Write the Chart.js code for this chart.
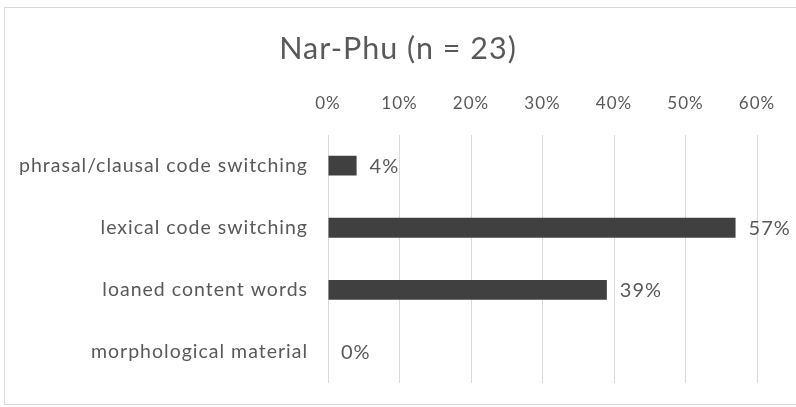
<!DOCTYPE html>
<html>
<head>
<meta charset="utf-8">
<script src="https://cdn.jsdelivr.net/npm/chart.js@4/dist/chart.umd.min.js"></script>
<style>
  html, body { margin: 0; padding: 0; background: #ffffff; }
  #wrap { position: relative; width: 796px; height: 407px; }
</style>
</head>
<body>
<div id="wrap"><canvas id="chart" width="796" height="407"></canvas></div>
<script>
// Share of contact phenomena observed in Nar-Phu speech samples
const chartTitle = 'Nar-Phu (n = 23)';
const categories = [
  'phrasal/clausal code switching',
  'lexical code switching',
  'loaned content words',
  'morphological material'
];
const percentValues = [4, 57, 39, 0];
const axisMax = 60;
const axisStep = 10;

const FONT = 'Lato, "Open Sans", sans-serif';
const TEXT = '#595959';

// White background, light frame, and slightly open letter spacing for all text
const framePlugin = {
  id: 'frame',
  beforeDraw(chart) {
    const ctx = chart.ctx;
    ctx.save();
    ctx.fillStyle = '#ffffff';
    ctx.fillRect(0, 0, chart.width, chart.height);
    ctx.strokeStyle = '#d9d9d9';
    ctx.lineWidth = 1;
    ctx.strokeRect(4.5, 7.5, chart.width + 10, 397);
    ctx.restore();
    if ('letterSpacing' in ctx) ctx.letterSpacing = '1px';
  }
};

// Percentage written just past the end of each bar
const valueLabelPlugin = {
  id: 'valueLabels',
  afterDatasetsDraw(chart) {
    const ctx = chart.ctx;
    const meta = chart.getDatasetMeta(0);
    ctx.save();
    ctx.font = '20px ' + FONT;
    ctx.fillStyle = TEXT;
    ctx.textAlign = 'left';
    ctx.textBaseline = 'middle';
    meta.data.forEach((bar, i) => {
      const v = chart.data.datasets[0].data[i];
      ctx.fillText(v + '%', bar.x + 13, bar.y + 1);
    });
    ctx.restore();
  }
};

// vertical scales: fixed width and no extra margin for label overhang
const fixVertical = width => scale => {
  scale.width = width;
  scale.paddingTop = 0;
  scale.paddingBottom = 0;
};

new Chart(document.getElementById('chart'), {
  type: 'bar',
  data: {
    labels: categories,
    datasets: [{
      data: percentValues,
      backgroundColor: '#404040',
      borderWidth: 0,
      barPercentage: 0.32,
      categoryPercentage: 1.0
    }]
  },
  options: {
    indexAxis: 'y',
    responsive: false,
    animation: false,
    devicePixelRatio: 1,
    layout: { padding: { top: 0, left: 0, right: 0, bottom: 24 } },
    plugins: {
      legend: { display: false },
      tooltip: { enabled: false },
      title: {
        display: true,
        text: chartTitle,
        color: TEXT,
        font: { family: FONT, size: 30.5, weight: 'normal', lineHeight: 1.2 },
        padding: { top: 31, bottom: 0 }
      }
    },
    scales: {
      x: {
        position: 'top',
        min: 0,
        max: axisMax,
        ticks: {
          stepSize: axisStep,
          padding: 21,
          color: TEXT,
          font: { family: FONT, size: 17 },
          callback: v => v + '%'
        },
        grid: { color: '#d9d9d9', lineWidth: 1, drawTicks: false },
        border: { display: false },
        afterFit(scale) { scale.height = 67; }
      },
      y: {
        ticks: {
          padding: 20,
          color: TEXT,
          font: { family: FONT, size: 19.5 }
        },
        grid: { display: false, drawTicks: false },
        border: { display: false },
        afterFit: fixVertical(328)
      },
      // empty right-hand gutter so the plot stops at the 60% line
      yRight: {
        type: 'category',
        position: 'right',
        labels: categories,
        ticks: { display: false },
        grid: { display: false, drawTicks: false },
        border: { display: false },
        afterFit: fixVertical(39)
      }
    }
  },
  plugins: [framePlugin, valueLabelPlugin]
});
</script>
</body>
</html>
